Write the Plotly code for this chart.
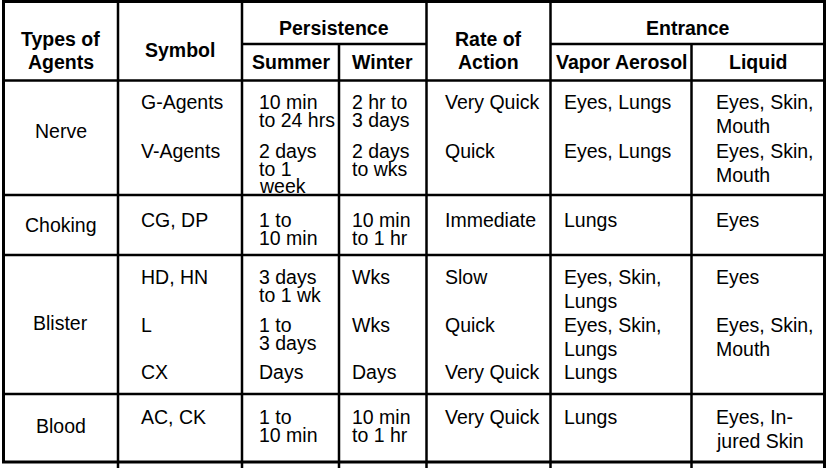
import plotly.graph_objects as go

# ---------------- table content ----------------
header_types = ["Types of", "Agents"]
header_symbol = ["Symbol"]
header_persistence = ["Persistence"]
persistence_sub = ["Summer", "Winter"]
header_rate = ["Rate of", "Action"]
header_entrance = ["Entrance"]
entrance_sub = ["Vapor Aerosol", "Liquid"]

agent_types = ["Nerve", "Choking", "Blister", "Blood"]
symbols = [["G-Agents", "V-Agents"], ["CG, DP"], ["HD, HN", "L", "CX"], ["AC, CK"]]
summer = [[["10 min", "to 24 hrs"], ["2 days", "to 1", "week"]],
          [["1 to", "10 min"]],
          [["3 days", "to 1 wk"], ["1 to", "3 days"], ["Days"]],
          [["1 to", "10 min"]]]
winter = [[["2 hr to", "3 days"], ["2 days", "to wks"]],
          [["10 min", "to 1 hr"]],
          [["Wks"], ["Wks"], ["Days"]],
          [["10 min", "to 1 hr"]]]
rate = [[["Very Quick"], ["Quick"]],
        [["Immediate"]],
        [["Slow"], ["Quick"], ["Very Quick"]],
        [["Very Quick"]]]
vapor = [[["Eyes, Lungs"], ["Eyes, Lungs"]],
         [["Lungs"]],
         [["Eyes, Skin,", "Lungs"], ["Eyes, Skin,", "Lungs"], ["Lungs"]],
         [["Lungs"]]]
liquid = [[["Eyes, Skin,", "Mouth"], ["Eyes, Skin,", "Mouth"]],
          [["Eyes"]],
          [["Eyes"], ["Eyes, Skin,", "Mouth"], []],
          [["Eyes, In-", "jured Skin"]]]

# ---------------- layout (pixel geometry) ----------------
W, H = 828, 468
FONT = "Liberation Sans, Arial, Helvetica, sans-serif"
FS = 19.5
col_edges = [3.5, 118, 242, 339, 426.5, 550.5, 691.5, 824.5]
row_edges = [1.5, 80.5, 195, 255, 394, 462]
sub_header_y = 44
group_label_y = [131, 225, 323, 426]
entry_y = [[102, 151], [220], [277, 325, 372], [417]]
text_left = {"symbol": 139, "summer": 257, "winter": 350, "rate": 443, "vapor": 562, "liquid": 714}
gap_persist = 17.5
gap_entrance = 23.5

fig = go.Figure()
fig.add_trace(go.Scatter(x=[0, W], y=[0, H], mode="markers",
                         marker=dict(opacity=0), hoverinfo="skip", showlegend=False))

shapes = []
def line(x0, y0, x1, y1, w=2.5):
    shapes.append(dict(type="line", xref="x", yref="y", x0=x0, y0=y0, x1=x1, y1=y1,
                       line=dict(color="black", width=w)))

# outer border
line(col_edges[0], 0, col_edges[0], row_edges[-1], 3)
line(col_edges[-1], 0, col_edges[-1], H, 3)
line(col_edges[0] - 1.5, row_edges[0], col_edges[-1] + 1.5, row_edges[0], 3)
line(col_edges[0] - 1.5, row_edges[-1], col_edges[-1] + 1.5, row_edges[-1], 3)
# inner horizontal rows
for y in row_edges[1:-1]:
    line(col_edges[0], y, col_edges[-1], y)
# sub header lines
line(col_edges[2], sub_header_y, col_edges[4], sub_header_y)
line(col_edges[5], sub_header_y, col_edges[7], sub_header_y)
# vertical column lines (extend below bottom border as in the source crop)
for i in [1, 2, 4, 5]:
    line(col_edges[i], 0, col_edges[i], H)
for i in [3, 6]:
    line(col_edges[i], sub_header_y, col_edges[i], H)

ann = []
def txt(s, x, y, anchor="left", bold=False):
    ann.append(dict(text=("<b>%s</b>" % s) if bold else s, x=x, y=y, xref="x", yref="y",
                    xanchor=anchor, yanchor="middle", showarrow=False,
                    font=dict(family=FONT, size=FS, color="black")))

def center(a, b):
    return (a + b) / 2

# headers
for k, s in enumerate(header_types):
    txt(s, center(col_edges[0], col_edges[1]), 38.5 + 23 * k, "center", True)
txt(header_symbol[0], center(col_edges[1], col_edges[2]), 50, "center", True)
txt(header_persistence[0], center(col_edges[2], col_edges[4]), 27.5, "center", True)
txt(persistence_sub[0], center(col_edges[2], col_edges[3]), 61.5, "center", True)
txt(persistence_sub[1], center(col_edges[3], col_edges[4]), 61.5, "center", True)
for k, s in enumerate(header_rate):
    txt(s, center(col_edges[4], col_edges[5]), 38.5 + 23 * k, "center", True)
txt(header_entrance[0], center(col_edges[5], col_edges[7]), 27.5, "center", True)
txt(entrance_sub[0], center(col_edges[5], col_edges[6]), 61.5, "center", True)
txt(entrance_sub[1], center(col_edges[6], col_edges[7]), 61.5, "center", True)

# body
for g, name in enumerate(agent_types):
    txt(name, center(col_edges[0], col_edges[1]), group_label_y[g], "center")
    for e, y0 in enumerate(entry_y[g]):
        txt(symbols[g][e], text_left["symbol"], y0)
        for key, data, gap in [("summer", summer, gap_persist), ("winter", winter, gap_persist),
                               ("rate", rate, gap_entrance), ("vapor", vapor, gap_entrance),
                               ("liquid", liquid, gap_entrance)]:
            for li, s in enumerate(data[g][e]):
                txt(s, text_left[key], y0 + gap * li)

fig.update_layout(
    width=W, height=H, margin=dict(l=0, r=0, t=0, b=0),
    paper_bgcolor="white", plot_bgcolor="white",
    xaxis=dict(range=[0, W], visible=False, fixedrange=True),
    yaxis=dict(range=[H, 0], visible=False, fixedrange=True),
    shapes=shapes, annotations=ann, showlegend=False,
)
fig.write_html("out.html", config={"displayModeBar": False},
               post_script="document.body.style.margin='0';document.body.style.overflow='hidden';")
